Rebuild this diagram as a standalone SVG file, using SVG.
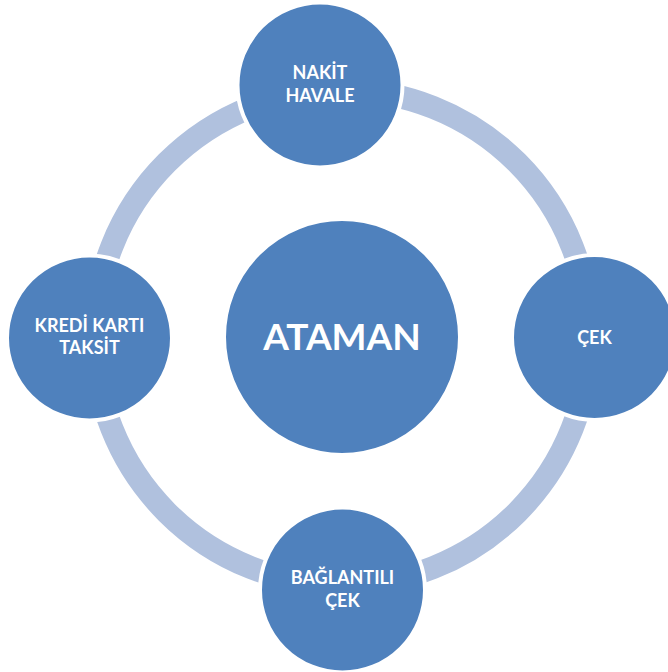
<svg xmlns="http://www.w3.org/2000/svg" width="668" height="672" viewBox="0 0 668 672">
<style>
.node{fill:#4f81bd;stroke:#ffffff;stroke-width:4}
.lbl{font-family:Lato,"Open Sans","Liberation Sans",sans-serif;font-weight:bold;fill:#ffffff;text-anchor:middle;font-size:18px}
.big{font-size:37px}
.ring{fill:none;stroke:#b0c1de;stroke-width:23}
</style>
<rect width="668" height="672" fill="#ffffff"/>
<g id="connectors">
<circle class="ring" cx="342" cy="337.5" r="247.5"/>
</g>
<g id="center">
<circle class="node" cx="342" cy="337" r="118"/>
<text class="lbl big" x="342" y="350">ATAMAN</text>
</g>
<g id="nakit">
<circle class="node" cx="320" cy="85" r="82.5"/>
<text class="lbl" x="320" y="79">NAKİT</text>
<text class="lbl" x="320" y="102">HAVALE</text>
</g>
<g id="cek">
<circle class="node" cx="594.5" cy="337.5" r="82.5"/>
<text class="lbl" x="594.5" y="344">ÇEK</text>
</g>
<g id="baglantili">
<circle class="node" cx="342.5" cy="590" r="82.5"/>
<text class="lbl" x="342.5" y="584">BAĞLANTILI</text>
<text class="lbl" x="342.5" y="607">ÇEK</text>
</g>
<g id="kredi">
<circle class="node" cx="89.5" cy="338" r="82.5"/>
<text class="lbl" x="89.5" y="332">KREDİ KARTI</text>
<text class="lbl" x="89.5" y="354">TAKSİT</text>
</g>
</svg>
